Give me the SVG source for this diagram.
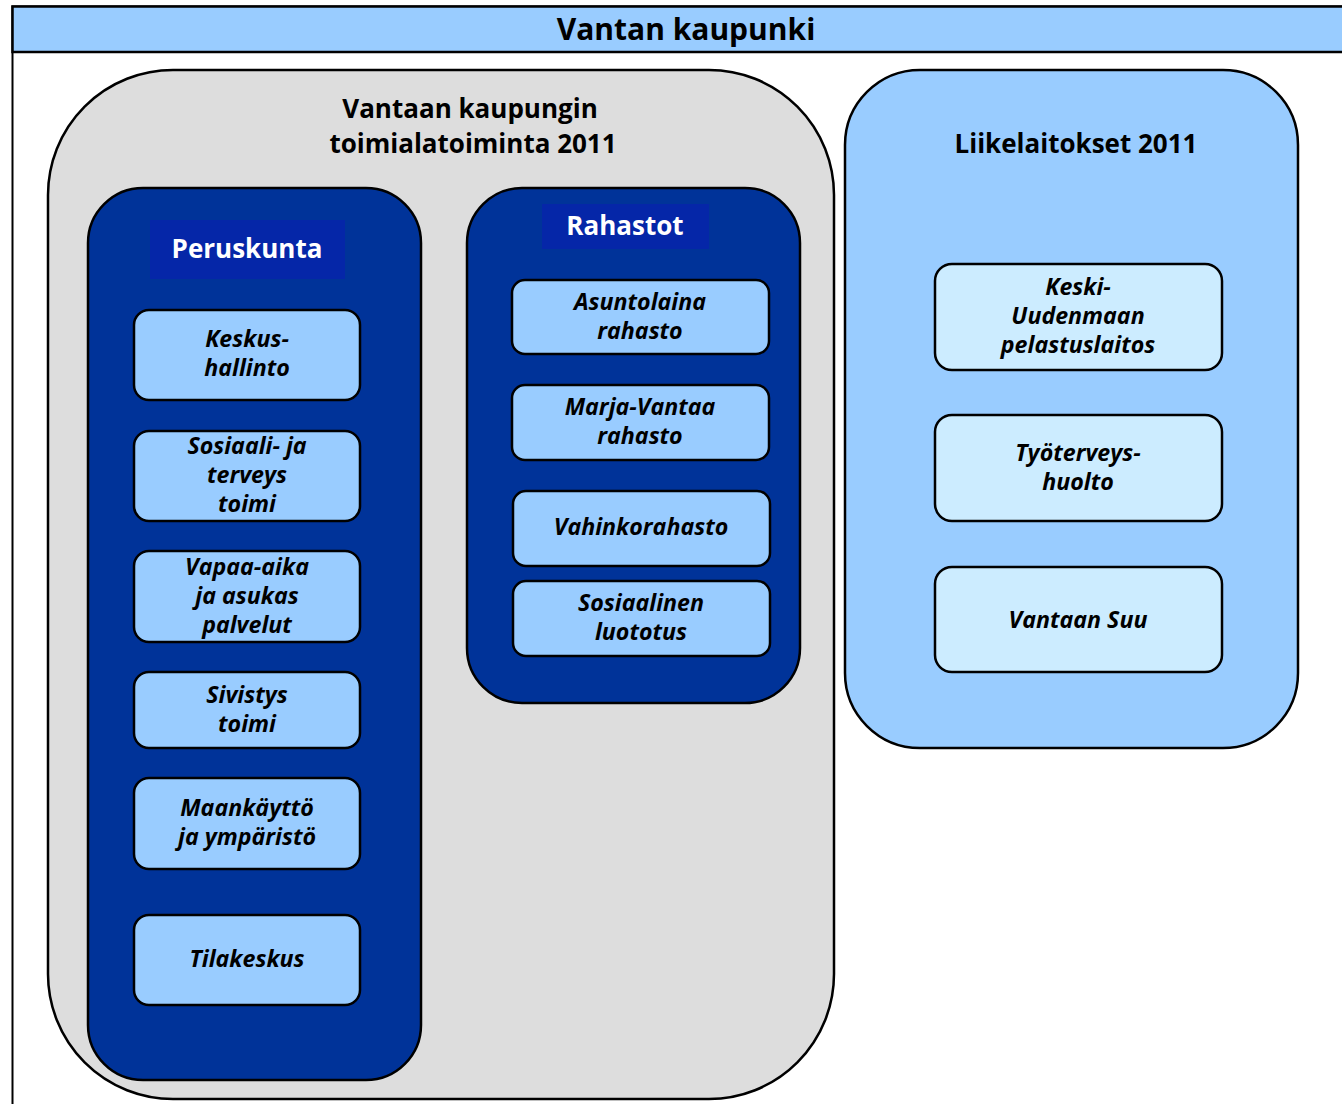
<svg xmlns="http://www.w3.org/2000/svg" width="1342" height="1104" viewBox="0 0 1342 1104">
<style>
.t{font-family:"Open Sans","Liberation Sans",sans-serif;font-weight:bold;text-anchor:middle}
.h{font-size:30px;fill:#000}
.g{font-size:26px;fill:#000}
.w{font-size:26px;fill:#fff}
.n{font-size:23.2px;font-style:italic;fill:#000}
.box{stroke:#000;stroke-width:2.5}
.node{fill:#99CCFF;stroke:#000;stroke-width:2.5}
.lnode{fill:#CCECFF;stroke:#000;stroke-width:2.5}
</style>
<rect width="1342" height="1104" fill="#fff"/>
<g id="frame">
<rect x="12.5" y="6.5" width="1340" height="1110" fill="#fff" stroke="#000" stroke-width="2"/>
<rect x="12.5" y="6.5" width="1340" height="45.5" fill="#99CCFF" stroke="#000" stroke-width="2.5"/>
<text class="t h" x="686" y="40">Vantan kaupunki</text>
</g>
<g id="toimiala">
<rect class="box" x="48" y="70" width="786" height="1029" rx="125" ry="125" fill="#DDDDDD"/>
<text class="t g" x="470" y="118">Vantaan kaupungin</text>
<text class="t g" x="473" y="153">toimialatoiminta 2011</text>
</g>
<g id="peruskunta">
<rect class="box" x="88" y="188" width="333" height="892" rx="55" ry="55" fill="#003399"/>
<rect x="150" y="220" width="195" height="59" fill="#0526A8"/>
<text class="t w" x="247" y="258">Peruskunta</text>
</g>
<g id="rahastot">
<rect class="box" x="467" y="188" width="333" height="515" rx="55" ry="55" fill="#003399"/>
<rect x="542" y="204" width="167" height="45" fill="#0526A8"/>
<text class="t w" x="625" y="235">Rahastot</text>
</g>
<g id="liikelaitokset">
<rect class="box" x="845" y="70" width="453" height="678" rx="75" ry="75" fill="#99CCFF"/>
<text class="t g" x="1076" y="153">Liikelaitokset 2011</text>
</g>
<g id="keskushallinto">
<rect class="node" x="134" y="310" width="226" height="90" rx="15"/>
<text class="t n" x="247" y="347">Keskus-</text>
<text class="t n" x="247" y="376">hallinto</text>
</g>
<g id="sosiaali">
<rect class="node" x="134" y="431" width="226" height="90" rx="15"/>
<text class="t n" x="247" y="454">Sosiaali- ja</text>
<text class="t n" x="247" y="483">terveys</text>
<text class="t n" x="247" y="512">toimi</text>
</g>
<g id="vapaa-aika">
<rect class="node" x="134" y="551" width="226" height="91" rx="15"/>
<text class="t n" x="247" y="575">Vapaa-aika</text>
<text class="t n" x="247" y="604">ja asukas</text>
<text class="t n" x="247" y="633">palvelut</text>
</g>
<g id="sivistys">
<rect class="node" x="134" y="672" width="226" height="76" rx="15"/>
<text class="t n" x="247" y="703">Sivistys</text>
<text class="t n" x="247" y="732">toimi</text>
</g>
<g id="maankaytto">
<rect class="node" x="134" y="778" width="226" height="91" rx="15"/>
<text class="t n" x="247" y="816">Maankäyttö</text>
<text class="t n" x="247" y="845">ja ympäristö</text>
</g>
<g id="tilakeskus">
<rect class="node" x="134" y="915" width="226" height="90" rx="15"/>
<text class="t n" x="247" y="967">Tilakeskus</text>
</g>
<g id="asuntolaina">
<rect class="node" x="512" y="280" width="257" height="74" rx="13"/>
<text class="t n" x="640" y="310">Asuntolaina</text>
<text class="t n" x="640" y="339">rahasto</text>
</g>
<g id="marja-vantaa">
<rect class="node" x="512" y="385" width="257" height="75" rx="13"/>
<text class="t n" x="640" y="415">Marja-Vantaa</text>
<text class="t n" x="640" y="444">rahasto</text>
</g>
<g id="vahinkorahasto">
<rect class="node" x="513" y="491" width="257" height="75" rx="13"/>
<text class="t n" x="641" y="535">Vahinkorahasto</text>
</g>
<g id="sosiaalinen">
<rect class="node" x="513" y="581" width="257" height="75" rx="13"/>
<text class="t n" x="641" y="611">Sosiaalinen</text>
<text class="t n" x="641" y="640">luototus</text>
</g>
<g id="pelastuslaitos">
<rect class="lnode" x="935" y="264" width="287" height="106" rx="17"/>
<text class="t n" x="1078" y="295">Keski-</text>
<text class="t n" x="1078" y="324">Uudenmaan</text>
<text class="t n" x="1078" y="353">pelastuslaitos</text>
</g>
<g id="tyoterveys">
<rect class="lnode" x="935" y="415" width="287" height="106" rx="17"/>
<text class="t n" x="1078" y="461">Työterveys-</text>
<text class="t n" x="1078" y="490">huolto</text>
</g>
<g id="vantaansuu">
<rect class="lnode" x="935" y="567" width="287" height="105" rx="17"/>
<text class="t n" x="1078" y="628">Vantaan Suu</text>
</g>
<g id="connectors"></g>
</svg>
